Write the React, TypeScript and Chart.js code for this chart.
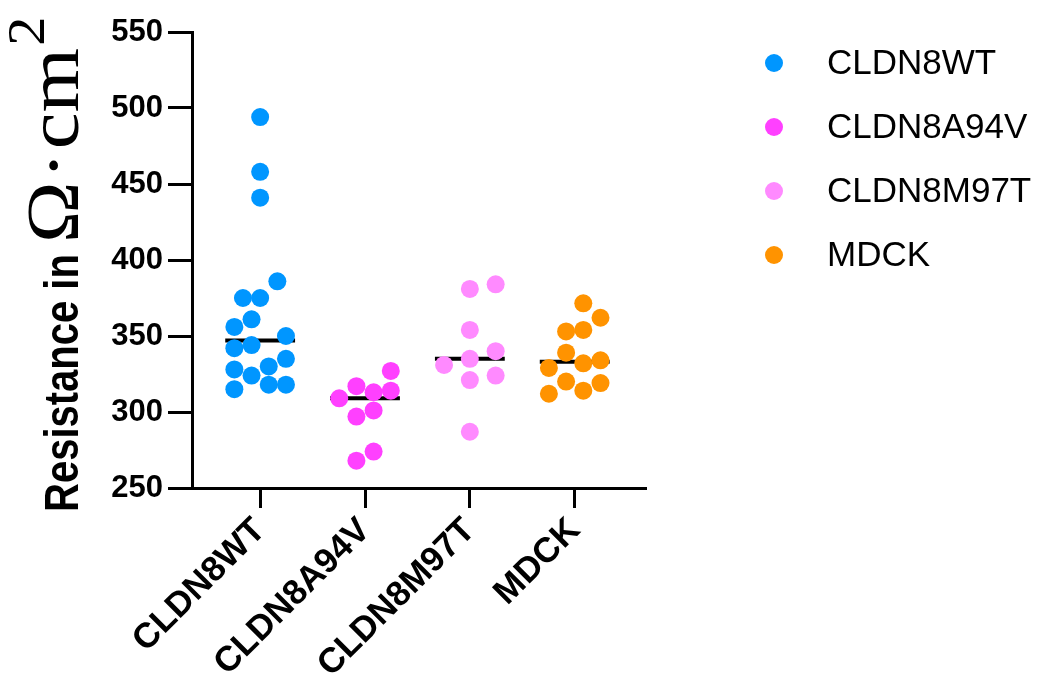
import React, { useEffect, useRef } from "react";
import { Chart, registerables } from "chart.js";

Chart.register(...registerables);

const categories = ["CLDN8WT", "CLDN8A94V", "CLDN8M97T", "MDCK"];
const colors = ["#0096FF", "#FF40FF", "#FF8AFF", "#FF9300"];

const wtValues = [494, 458, 441, 386, 375, 375, 361, 356, 350, 342, 344, 335, 328, 330, 324, 315, 318, 318];
const wtSlots = [0, 0, 0, 2, -2, 0, -1, -3, 3, -3, -1, 3, -3, 1, -1, -3, 1, 3];

const a94vValues = [327, 317, 313, 314, 309, 297, 301, 274, 268];
const a94vSlots = [3, -1, 1, 3, -3, -1, 1, 1, -1];

const m97tValues = [381, 384, 354, 340, 335, 331, 321, 324, 287];
const m97tSlots = [0, 3, 0, 3, 0, -3, 0, 3, 0];

const mdckValues = [371.5, 362, 353, 354, 339, 332, 334, 329, 320, 319, 312, 314];
const mdckSlots = [1, 3, -1, 1, -1, 1, 3, -3, -1, 3, -3, 1];

const yTicks = [250, 300, 350, 400, 450, 500, 550];

const SLOT = 0.082;
const MEDIAN_HALF = 0.333;

function median(a: number[]): number {
  const s = [...a].sort((p, q) => p - q);
  const m = Math.floor(s.length / 2);
  return s.length % 2 ? s[m] : (s[m - 1] + s[m]) / 2;
}

const yTitlePlugin = {
  id: "yTitleMixed",
  afterDraw(chart: any) {
    const ctx = chart.ctx as CanvasRenderingContext2D;
    ctx.save();
    ctx.translate(78, 512);
    ctx.rotate(-Math.PI / 2);
    ctx.textAlign = "left";
    ctx.textBaseline = "alphabetic";
    ctx.fillStyle = "#000";
    // bold sans part
    ctx.save();
    ctx.scale(1, 1.2);
    ctx.font = "bold 40px 'Liberation Sans'";
    ctx.fillText("Resistance in", 0, 0);
    const x = ctx.measureText("Resistance in ").width;
    ctx.restore();
    // serif part
    ctx.save();
    ctx.translate(x, 0);
    ctx.scale(1.12, 1);
    let sx = 0;
    ctx.font = "74px 'Liberation Serif'";
    ctx.fillText("Ω", sx, 0);
    sx += ctx.measureText("Ω").width + 2;
    ctx.fillText("·", sx, 0);
    sx += ctx.measureText("·").width + 2;
    ctx.fillText("cm", sx, 0);
    sx += ctx.measureText("cm").width + 2;
    ctx.font = "52px 'Liberation Serif'";
    ctx.fillText("2", sx, -34);
    ctx.restore();
    ctx.restore();
  },
};

const legendPlugin = {
  id: "sideLegend",
  afterDraw(chart: any) {
    const ctx = chart.ctx as CanvasRenderingContext2D;
    const sets = chart.data.datasets.filter((d: any) => d.type === "scatter");
    ctx.save();
    ctx.font = "35px 'Liberation Sans'";
    ctx.textBaseline = "middle";
    ctx.textAlign = "left";
    sets.forEach((d: any, i: number) => {
      const y = 63 + i * 64;
      ctx.fillStyle = d.backgroundColor;
      ctx.beginPath();
      ctx.arc(774, y, 9, 0, Math.PI * 2);
      ctx.fill();
      ctx.fillStyle = "#000";
      ctx.fillText(d.label, 827, y + 1);
    });
    ctx.restore();
  },
};

export default function App() {
  const ref = useRef<HTMLCanvasElement>(null);

  useEffect(() => {
    document.body.style.margin = "0";
    const groups = [
      { values: wtValues, slots: wtSlots },
      { values: a94vValues, slots: a94vSlots },
      { values: m97tValues, slots: m97tSlots },
      { values: mdckValues, slots: mdckSlots },
    ];
    const pointSets = groups.map((g, i) => ({
      type: "scatter" as const,
      label: categories[i],
      data: g.values.map((v, j) => ({ x: i + 1 + g.slots[j] * SLOT, y: v })),
      backgroundColor: colors[i],
      borderColor: colors[i],
      borderWidth: 0,
      pointRadius: 9,
      pointHoverRadius: 9,
      order: 1,
    }));
    const medianSets = groups.map((g, i) => {
      const m = median(g.values);
      return {
        type: "line" as const,
        label: "median " + categories[i],
        data: [
          { x: i + 1 - MEDIAN_HALF, y: m },
          { x: i + 1 + MEDIAN_HALF, y: m },
        ],
        borderColor: "#000",
        backgroundColor: "#000",
        borderWidth: 4,
        pointRadius: 0,
        fill: false,
        order: 2,
      };
    });

    const chart = new Chart(ref.current as HTMLCanvasElement, {
      type: "scatter",
      data: { datasets: [...pointSets, ...medianSets] as any },
      options: {
        animation: false,
        responsive: true,
        maintainAspectRatio: false,
        events: [],
        layout: { padding: { top: 32, right: 404, left: 0, bottom: 0 } },
        plugins: { legend: { display: false }, tooltip: { enabled: false } },
        scales: {
          x: {
            type: "linear",
            min: 0.35,
            max: 4.68,
            afterBuildTicks: (s: any) => {
              s.ticks = categories.map((_, i) => ({ value: i + 1 }));
            },
            afterFit: (s: any) => {
              s.height = 679 - 488;
            },
            ticks: {
              autoSkip: false,
              minRotation: 45,
              maxRotation: 45,
              color: "#000",
              padding: 2,
              font: { family: "'Liberation Sans'", size: 35, weight: "bold" },
              callback: (v: any) => categories[Math.round(Number(v)) - 1] ?? "",
            },
            grid: { drawOnChartArea: false, drawTicks: true, tickLength: 20, tickWidth: 3, tickColor: "#000" },
            border: { display: true, width: 3, color: "#000" },
          },
          y: {
            min: 250,
            max: 550,
            afterBuildTicks: (s: any) => {
              s.ticks = yTicks.map((v) => ({ value: v }));
            },
            afterFit: (s: any) => {
              s.width = 192;
            },
            ticks: {
              color: "#000",
              padding: 5,
              font: { family: "'Liberation Sans'", size: 31, weight: "bold" },
            },
            grid: { drawOnChartArea: false, drawTicks: true, tickLength: 24, tickWidth: 3, tickColor: "#000" },
            border: { display: true, width: 3, color: "#000" },
          },
        },
      } as any,
      plugins: [yTitlePlugin, legendPlugin],
    });
    return () => chart.destroy();
  }, []);

  return (
    <div style={{ width: 1050, height: 679, position: "relative" }}>
      <canvas ref={ref} />
    </div>
  );
}
